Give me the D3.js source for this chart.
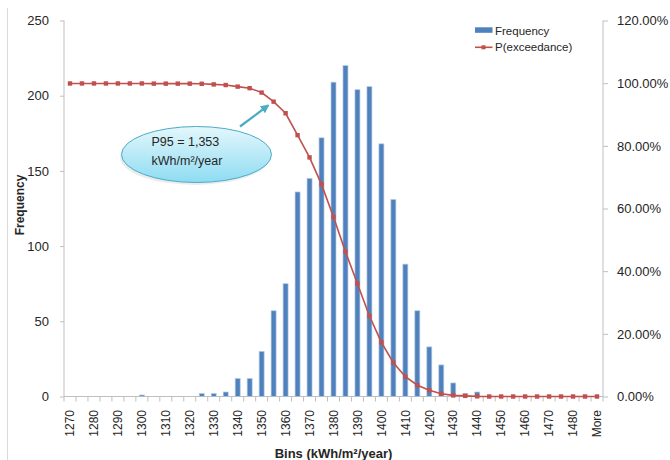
<!DOCTYPE html>
<html>
<head>
<meta charset="utf-8">
<script src="https://cdn.jsdelivr.net/npm/d3@7"></script>
<style>
  html, body { margin: 0; padding: 0; background: #fff; }
  svg { display: block; font-family: "Liberation Sans", Arial, sans-serif; }
</style>
</head>
<body>
<svg id="chart" width="670" height="460"></svg>
<script>
// ---------- data ----------
const bins = ["1270","1275","1280","1285","1290","1295","1300","1305","1310","1315",
  "1320","1325","1330","1335","1340","1345","1350","1355","1360","1365",
  "1370","1375","1380","1385","1390","1395","1400","1405","1410","1415",
  "1420","1425","1430","1435","1440","1445","1450","1455","1460","1465",
  "1470","1475","1480","1485","More"];
const frequency = [0,0,0,0,0,0,1,0,0,0,
  0,2,2,3,12,12,30,57,75,136,
  145,172,209,220,204,206,168,131,88,57,
  33,21,9,2,3,0,0,0,0,0,
  0,0,0,0,0];
const pExceedance = [99.9,99.9,99.9,99.9,99.9,99.9,99.9,99.85,99.85,99.85,
  99.85,99.8,99.6,99.4,98.9,98.4,97.0,94.1,90.4,83.4,
  76.3,67.7,57.3,46.2,36.0,25.7,17.3,10.8,6.3,3.6,
  2.0,0.9,0.35,0.2,0.05,0,0,0,0,0,
  0,0,0,0,0];
const leftTicks = [0,50,100,150,200,250];
const rightTicks = [0,20,40,60,80,100,120];
const seriesNames = ["Frequency","P(exceedance)"];
const calloutLines = ["P95 = 1,353", "kWh/m\u00B2/year"];
const xTitle = "Bins (kWh/m\u00B2/year)";
const yTitle = "Frequency";

// ---------- layout ----------
const svg = d3.select("#chart");
const L = 64, R = 603, T = 20.5, B = 396.5;
const blue = "#4F81BD", red = "#C0504D", axisCol = "#BFBFBF", txt = "#262626";

const x = d3.scaleBand().domain(bins).range([L, R]).padding(0);
const y = d3.scaleLinear().domain([0, 250]).range([B, T]);
const y2 = d3.scaleLinear().domain([0, 120]).range([B, T]);

// outer border (left edge of chart area)
svg.append("line").attr("x1", 7.5).attr("x2", 7.5).attr("y1", 8).attr("y2", 460)
  .attr("stroke", "#d9d9d9");

// defs
const defs = svg.append("defs");
const g1 = defs.append("linearGradient").attr("id", "callG")
  .attr("x1", "0").attr("y1", "0").attr("x2", "0").attr("y2", "1");
g1.append("stop").attr("offset", "0%").attr("stop-color", "#E4F7FC");
g1.append("stop").attr("offset", "100%").attr("stop-color", "#8EDCF2");
defs.append("marker").attr("id", "arr").attr("viewBox", "0 0 10 10")
  .attr("refX", 8).attr("refY", 5).attr("markerWidth", 4).attr("markerHeight", 4)
  .attr("orient", "auto")
  .append("path").attr("d", "M0,0 L10,5 L0,10 z").attr("fill", "#4BACC6");

// left axis
const ax = svg.append("g").attr("transform", `translate(${L},0)`)
  .call(d3.axisLeft(y).tickValues(leftTicks).tickSize(4).tickPadding(11));
ax.select(".domain").attr("stroke", axisCol).attr("d", `M-0,${T}V${B}`);
ax.selectAll(".tick line").attr("stroke", axisCol);
ax.selectAll(".tick text").attr("font-size", 13).attr("fill", txt)
  .attr("font-family", "Liberation Sans, Arial, sans-serif");

// right axis
const ax2 = svg.append("g").attr("transform", `translate(${R},0)`)
  .call(d3.axisRight(y2).tickValues(rightTicks).tickSize(5).tickPadding(9)
    .tickFormat(d => d.toFixed(2) + "%"));
ax2.select(".domain").attr("stroke", axisCol).attr("d", `M0,${T}V${B}`);
ax2.selectAll(".tick line").attr("stroke", axisCol);
ax2.selectAll(".tick text").attr("font-size", 13).attr("fill", txt)
  .attr("font-family", "Liberation Sans, Arial, sans-serif");

// x axis line and ticks at category boundaries
const xg = svg.append("g");
xg.append("line").attr("x1", L).attr("x2", R).attr("y1", B).attr("y2", B).attr("stroke", axisCol);
const bounds = bins.map(b => x(b)).concat([x(bins[bins.length - 1]) + x.bandwidth()]);
xg.selectAll("line.tk").data(bounds).enter().append("line").attr("class", "tk")
  .attr("x1", d => d).attr("x2", d => d).attr("y1", B).attr("y2", B + 5)
  .attr("stroke", axisCol);
xg.selectAll("text").data(bins.filter((b, i) => i % 2 === 0)).enter().append("text")
  .attr("transform", d => `translate(${x(d) + x.bandwidth() / 2},410) rotate(-90)`)
  .attr("text-anchor", "end").attr("dy", "0.35em")
  .attr("font-size", 12).attr("fill", txt).text(d => d);

// bars
const bw = 5;
svg.append("g").selectAll("rect").data(bins).enter().append("rect")
  .attr("x", d => x(d) + x.bandwidth() / 2 - bw / 2)
  .attr("y", (d, i) => y(frequency[i]))
  .attr("width", bw)
  .attr("height", (d, i) => B - y(frequency[i]))
  .attr("fill", blue)
  .attr("stroke", "#B7CBE6").attr("stroke-width", 0.7);

// exceedance line
const line = d3.line().x((d, i) => x(bins[i]) + x.bandwidth() / 2).y(d => y2(d));
svg.append("path").datum(pExceedance).attr("d", line)
  .attr("fill", "none").attr("stroke", red).attr("stroke-width", 1.6);
svg.append("g").selectAll("rect").data(pExceedance).enter().append("rect")
  .attr("x", (d, i) => x(bins[i]) + x.bandwidth() / 2 - 2.2)
  .attr("y", d => y2(d) - 2.2)
  .attr("width", 4.4).attr("height", 4.4).attr("fill", red);

// axis titles
svg.append("text").attr("transform", "translate(20,205) rotate(-90)")
  .attr("text-anchor", "middle").attr("dy", "0.35em")
  .attr("font-size", 12).attr("font-weight", "bold").attr("fill", txt).text(yTitle);
svg.append("text").attr("x", (L + R) / 2).attr("y", 453)
  .attr("text-anchor", "middle").attr("dy", "0.35em")
  .attr("font-size", 13).attr("font-weight", "bold").attr("fill", txt).text(xTitle);

// legend
const lg = svg.append("g");
lg.append("rect").attr("x", 475).attr("y", 27.3).attr("width", 17.5).attr("height", 5.5).attr("fill", blue);
lg.append("text").attr("x", 495).attr("y", 30.5).attr("dy", "0.35em")
  .attr("font-size", 11.5).attr("fill", txt).text(seriesNames[0]);
lg.append("line").attr("x1", 475).attr("x2", 492.5).attr("y1", 47.3).attr("y2", 47.3)
  .attr("stroke", red).attr("stroke-width", 1.6);
lg.append("rect").attr("x", 481.5).attr("y", 45.3).attr("width", 4).attr("height", 4).attr("fill", red);
lg.append("text").attr("x", 495).attr("y", 47.3).attr("dy", "0.35em")
  .attr("font-size", 11.5).attr("fill", txt).text(seriesNames[1]);

// callout
const cg = svg.append("g");
cg.append("ellipse").attr("cx", 195).attr("cy", 157).attr("rx", 75).attr("ry", 28)
  .attr("fill", "#000").attr("opacity", 0.08);
cg.append("ellipse").attr("cx", 196.5).attr("cy", 154.5).attr("rx", 75).attr("ry", 28)
  .attr("fill", "url(#callG)").attr("stroke", "#4BACC6").attr("stroke-width", 1);
cg.append("line").attr("x1", 240).attr("y1", 126.5).attr("x2", 268).attr("y2", 105.5)
  .attr("stroke", "#4BACC6").attr("stroke-width", 2.2).attr("marker-end", "url(#arr)");
cg.selectAll("text").data(calloutLines).enter().append("text")
  .attr("x", 151.5).attr("y", (d, i) => 146 + i * 18.5)
  .attr("font-size", 12.5).attr("fill", txt).text(d => d);
</script>
</body>
</html>
